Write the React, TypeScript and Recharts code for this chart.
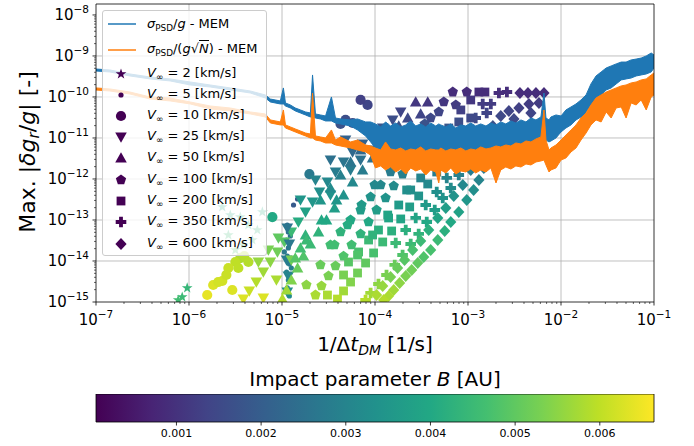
import React from 'react';
import { ComposedChart, Area, Scatter, XAxis, YAxis, ReferenceLine, ReferenceArea } from 'recharts';

// PSD curves (x = 1/dt in 1/s)
const freq = [
  1e-7, 1.41e-7, 2.32e-7, 3.82e-7, 6.27e-7, 1.03e-6, 1.69e-6, 2.78e-6, 4.56e-6, 6.62e-6,
  7.5e-6, 9.6e-6, 1.035e-5, 1.09e-5, 1.23e-5, 1.39e-5, 1.58e-5, 1.79e-5, 2.02e-5, 2.13e-5,
  2.29e-5, 2.59e-5, 2.94e-5, 3.4e-5, 3.76e-5, 4.26e-5, 5.46e-5, 6.49e-5, 7.92e-5, 8.97e-5,
  1.01e-4, 1.15e-4, 1.3e-4, 1.47e-4, 1.67e-4, 1.89e-4, 2.14e-4, 2.42e-4, 2.74e-4, 3.1e-4,
  3.51e-4, 3.97e-4, 4.5e-4, 4.85e-4, 5.09e-4, 5.77e-4, 6.53e-4, 7.39e-4, 8.37e-4, 9.47e-4,
  1.07e-3, 1.21e-3, 1.37e-3, 1.56e-3, 1.76e-3, 2.0e-3, 2.25e-3, 2.55e-3, 2.89e-3, 3.27e-3,
  3.71e-3, 4.2e-3, 4.75e-3, 5.38e-3, 6.08e-3, 6.56e-3, 6.89e-3, 7.43e-3, 7.8e-3, 8.83e-3,
  1.0e-2, 1.13e-2, 1.28e-2, 1.45e-2, 1.64e-2, 1.86e-2, 2.1e-2, 2.38e-2, 2.7e-2, 3.06e-2,
  3.46e-2, 3.92e-2, 4.44e-2, 5.01e-2, 5.68e-2, 6.43e-2, 7.28e-2, 8.25e-2, 9.33e-2, 1e-1,
];
const blueLo = [
  4.3e-10, 4.07e-10, 3.25e-10, 2.75e-10, 2.46e-10, 1.96e-10, 1.75e-10, 1.48e-10, 1.25e-10, 9.45e-11,
  7.55e-11, 6.75e-11, 6.75e-11, 6.03e-11, 5.39e-11, 4.56e-11, 4.07e-11, 3.64e-11, 3.25e-11, 3.25e-11,
  3.07e-11, 2.91e-11, 2.6e-11, 2.6e-11, 2.32e-11, 2.2e-11, 1.96e-11, 1.57e-11, 1.12e-11, 8.0e-12,
  5.7e-12, 5.1e-12, 5.39e-12, 5.1e-12, 4.82e-12, 5.1e-12, 4.56e-12, 4.82e-12, 4.56e-12, 5.1e-12,
  4.82e-12, 4.56e-12, 4.82e-12, 4.56e-12, 4.82e-12, 4.56e-12, 5.1e-12, 4.82e-12, 5.1e-12, 4.82e-12,
  5.1e-12, 4.82e-12, 5.1e-12, 5.39e-12, 5.1e-12, 5.39e-12, 5.7e-12, 6.03e-12, 6.38e-12, 6.75e-12,
  7.14e-12, 7.55e-12, 8.0e-12, 8.45e-12, 8.9e-12, 8.9e-12, 8.9e-12, 8.0e-12, 8.45e-12, 1.0e-11,
  1.4e-11, 1.75e-11, 2.08e-11, 2.75e-11, 3.25e-11, 4.31e-11, 6.38e-11, 9.45e-11, 1.12e-10, 1.48e-10,
  1.66e-10, 2.08e-10, 2.6e-10, 2.75e-10, 2.9e-10, 3.25e-10, 3.44e-10, 3.64e-10, 4.07e-10, 5.1e-10,
];
const blueHi = [
  4.8e-10, 4.56e-10, 3.64e-10, 3.07e-10, 2.75e-10, 2.32e-10, 1.96e-10, 1.66e-10, 1.4e-10, 1.12e-10,
  8.9e-11, 8.0e-11, 1.66e-10, 7.14e-11, 6.38e-11, 5.39e-11, 4.82e-11, 4.31e-11, 4.07e-11, 3.44e-10,
  3.85e-11, 3.64e-11, 3.44e-11, 1.0e-10, 3.07e-11, 2.91e-11, 2.75e-11, 2.91e-11, 2.46e-11, 2.46e-11,
  2.2e-11, 1.86e-11, 2.46e-11, 1.96e-11, 2.32e-11, 1.86e-11, 2.08e-11, 2.6e-11, 1.96e-11, 2.2e-11,
  1.86e-11, 2.32e-11, 1.96e-11, 2.2e-11, 2.08e-11, 1.86e-11, 2.2e-11, 1.75e-11, 2.08e-11, 1.96e-11,
  2.32e-11, 1.96e-11, 2.2e-11, 1.96e-11, 2.32e-11, 2.08e-11, 2.46e-11, 2.2e-11, 2.6e-11, 2.32e-11,
  2.75e-11, 2.46e-11, 3.07e-11, 2.75e-11, 3.25e-11, 1.25e-10, 3.07e-11, 2.75e-11, 3.25e-11, 3.64e-11,
  3.44e-11, 4.82e-11, 5.7e-11, 6.75e-11, 8.45e-11, 1.12e-10, 2.08e-10, 3.25e-10, 4.07e-10, 5.1e-10,
  5.7e-10, 6.4e-10, 7.1e-10, 7.1e-10, 8.0e-10, 8.4e-10, 8.9e-10, 1.0e-9, 1.18e-9, 1.06e-9,
];
const orangeLo = [
  1.48e-10, 1.4e-10, 1.18e-10, 8.9e-11, 8.0e-11, 6.75e-11, 5.1e-11, 4.56e-11, 3.85e-11, 3.25e-11,
  2.32e-11, 2.08e-11, 2.08e-11, 1.75e-11, 1.57e-11, 1.4e-11, 1.25e-11, 1.12e-11, 1.0e-11, 1.0e-11,
  8.9e-12, 8.45e-12, 7.55e-12, 7.55e-12, 6.75e-12, 6.38e-12, 5.7e-12, 5.1e-12, 4.56e-12, 3.85e-12,
  1.86e-12, 2.08e-12, 1.66e-12, 1.96e-12, 1.48e-12, 1.75e-12, 1.32e-12, 1.86e-12, 1.57e-12, 1.75e-12,
  1.25e-12, 1.66e-12, 1.48e-12, 8.0e-13, 1.66e-12, 1.4e-12, 1.86e-12, 1.32e-12, 1.57e-12, 1.48e-12,
  1.75e-12, 1.4e-12, 1.66e-12, 1.48e-12, 1.86e-12, 8.0e-13, 1.66e-12, 1.96e-12, 1.75e-12, 2.08e-12,
  1.96e-12, 2.32e-12, 2.2e-12, 2.6e-12, 2.75e-12, 2.9e-12, 2.2e-12, 1.48e-12, 1.66e-12, 1.86e-12,
  2.9e-12, 3.25e-12, 4.56e-12, 5.7e-12, 8.9e-12, 1.32e-11, 2.08e-11, 2.75e-11, 2.46e-11, 4.31e-11,
  3.07e-11, 5.39e-11, 5.7e-11, 3.07e-11, 7.14e-11, 6.38e-11, 8.45e-11, 4.82e-11, 1.0e-10, 1.12e-10,
];
const orangeHi = [
  1.66e-10, 1.57e-10, 1.32e-10, 1.0e-10, 9.45e-11, 7.55e-11, 6.03e-11, 5.39e-11, 4.31e-11, 3.85e-11,
  2.75e-11, 2.46e-11, 4.82e-11, 2.08e-11, 1.86e-11, 1.66e-11, 1.48e-11, 1.32e-11, 1.25e-11, 1.25e-10,
  1.12e-11, 1.06e-11, 1.0e-11, 1.57e-11, 8.9e-12, 1.06e-11, 8.0e-12, 8.9e-12, 6.75e-12, 6.38e-12,
  5.7e-12, 5.1e-12, 8.0e-12, 5.39e-12, 5.1e-12, 5.7e-12, 4.82e-12, 5.39e-12, 5.1e-12, 6.03e-12,
  4.82e-12, 5.39e-12, 5.1e-12, 5.1e-12, 5.7e-12, 4.82e-12, 5.39e-12, 5.1e-12, 5.7e-12, 4.82e-12,
  5.39e-12, 5.1e-12, 6.03e-12, 5.39e-12, 5.7e-12, 6.38e-12, 6.03e-12, 6.75e-12, 6.38e-12, 7.55e-12,
  7.14e-12, 8.45e-12, 8.0e-12, 9.45e-12, 1.06e-11, 4.82e-11, 8.9e-12, 5.1e-12, 5.7e-12, 6.75e-12,
  8.9e-12, 1.18e-11, 1.57e-11, 2.08e-11, 3.07e-11, 4.07e-11, 6.38e-11, 9.45e-11, 1.12e-10, 1.32e-10,
  1.48e-10, 1.66e-10, 1.86e-10, 1.96e-10, 2.2e-10, 2.32e-10, 2.6e-10, 2.75e-10, 3.44e-10, 3.85e-10,
];

// scatter points per V_inf: [1/dt, max |dg/g|, impact parameter B in AU]
const v2 = [
  [8.45e-7, 1.32e-15, 0.0045], [9.56e-7, 2.2e-15, 0.0044], [7.65e-7, 1.12e-15, 0.0046],
  [2.28e-6, 2.08e-13, 0.004], [2.78e-6, 1.32e-13, 0.0041], [3.56e-6, 1.18e-13, 0.0042],
  [4.35e-6, 7.55e-14, 0.0043], [5.43e-6, 5.7e-14, 0.0044], [4.8e-6, 3.25e-14, 0.0045],
  [3.84e-6, 2.46e-14, 0.0046], [3.15e-6, 1.86e-14, 0.0047], [6.15e-6, 1.57e-13, 0.0041],
  [2.65e-6, 4.31e-14, 0.0045],
];
const v5 = [
  [1.47e-5, 3.25e-13, 0.0018], [1.33e-5, 2.32e-13, 0.0019],
  [1.14e-5, 7.55e-14, 0.0024], [1.17e-5, 5.1e-14, 0.0025], [1.12e-5, 3.25e-14, 0.0025],
  [1.17e-5, 2.08e-14, 0.0026], [1.14e-5, 1.32e-14, 0.0027], [1.2e-5, 8.45e-15, 0.0028],
  [1.12e-5, 5.39e-15, 0.0029], [1.17e-5, 3.44e-15, 0.003], [1.14e-5, 2.2e-15, 0.0031],
  [1.2e-5, 1.4e-15, 0.0032], [1.23e-5, 4.07e-14, 0.0025], [1.06e-5, 1.66e-14, 0.0027],
  [1.26e-5, 6.75e-15, 0.0029],
];
const v10 = [
  [8.32e-5, 6.38e-11, 0.0014], [7.0e-5, 8.45e-11, 0.0013], [5.74e-5, 2.32e-11, 0.0016],
  [4.82e-5, 2.75e-11, 0.0016], [4.26e-5, 2.2e-11, 0.0017], [1.97e-5, 1.32e-12, 0.0027],
  [7.88e-6, 1.18e-13, 0.004], [3.56e-6, 1.18e-14, 0.0058], [3.15e-6, 9.45e-15, 0.006],
  [2.65e-6, 6.75e-15, 0.0061], [2.28e-6, 3.25e-15, 0.0062], [1.82e-6, 2.6e-15, 0.0063],
  [1.57e-6, 1.48e-15, 0.0064], [2.92e-6, 1.96e-15, 0.0063], [2.06e-6, 3.07e-15, 0.0062],
  [2.52e-6, 4.56e-15, 0.0061], [3.39e-6, 6.75e-15, 0.006], [3.93e-6, 1.32e-14, 0.0059],
  [4.35e-6, 9.45e-15, 0.0059],
];
const v25 = [
  [1.89e-4, 4.31e-11, 0.0014], [1.55e-4, 2.75e-11, 0.0016], [1.21e-4, 1.75e-11, 0.0018],
  [9.42e-5, 1.12e-11, 0.002], [7.35e-5, 7.14e-12, 0.0021], [5.74e-5, 4.56e-12, 0.0023],
  [4.59e-5, 2.6e-12, 0.0026], [3.76e-5, 1.48e-12, 0.0028], [3.08e-5, 8.45e-13, 0.0031],
  [2.53e-5, 4.82e-13, 0.0033], [2.13e-5, 2.75e-13, 0.0035], [1.79e-5, 1.57e-13, 0.0038],
  [1.5e-5, 8.94e-14, 0.0041], [1.26e-5, 5.1e-14, 0.0045], [1.06e-5, 2.91e-14, 0.0049],
  [8.93e-6, 1.66e-14, 0.0052], [7.5e-6, 9.45e-15, 0.0055], [6.3e-6, 5.39e-15, 0.0057],
  [5.3e-6, 3.07e-15, 0.0059], [4.45e-6, 1.86e-15, 0.0061], [3.84e-6, 1.18e-15, 0.0063],
  [4.82e-5, 8.9e-12, 0.0021], [3.32e-5, 2.9e-12, 0.0025], [2.29e-5, 9.5e-13, 0.003],
  [1.58e-5, 3.07e-13, 0.0035], [9.15e-6, 3.64e-14, 0.005], [7.14e-6, 1.86e-14, 0.0053],
  [5.57e-6, 9.45e-15, 0.0056],
  [1.14e-5, 6.38e-14, 0.0026], [1.2e-5, 2.6e-14, 0.0027], [1.12e-5, 1.06e-14, 0.0028],
  [1.17e-5, 4.31e-15, 0.003], [1.14e-5, 1.75e-15, 0.0032],
  [1.26e-5, 1.06e-14, 0.0053], [8.71e-6, 3.44e-15, 0.0058], [6.3e-6, 1.25e-15, 0.0063],
  [5.46e-5, 1.66e-12, 0.0028], [3.32e-5, 4.07e-13, 0.0034], [7.0e-5, 2.9e-12, 0.0025],
  [8.97e-5, 5.1e-12, 0.0023],
];
const v50 = [
  [2.74e-4, 7.55e-11, 0.0011], [3.69e-4, 7.55e-11, 0.0011], [2.25e-4, 3.07e-11, 0.0015],
  [3.1e-4, 3.85e-11, 0.0014], [1.8e-4, 1.96e-11, 0.0017],
  [1.21e-4, 6.75e-12, 0.0022], [9.42e-5, 3.25e-12, 0.0025], [7.35e-5, 1.66e-12, 0.0028],
  [5.74e-5, 8.45e-13, 0.0031], [4.59e-5, 4.07e-13, 0.0034], [3.67e-5, 1.96e-13, 0.0037],
  [3.01e-5, 1.0e-13, 0.004], [2.47e-5, 5.1e-14, 0.0043], [2.02e-5, 2.6e-14, 0.0045],
  [1.7e-5, 1.32e-14, 0.0048], [1.47e-5, 6.75e-15, 0.0051], [1.26e-5, 3.44e-15, 0.0054],
  [1.12e-5, 1.96e-15, 0.0057], [1.01e-5, 1.18e-15, 0.0059],
  [7.0e-5, 5.1e-12, 0.0023], [5.46e-5, 2.6e-12, 0.0026], [4.26e-5, 1.25e-12, 0.0029],
  [3.32e-5, 6.03e-13, 0.0032], [2.59e-5, 3.07e-13, 0.0035], [1.79e-5, 4.31e-14, 0.0043],
  [1.58e-5, 2.08e-14, 0.0046], [1.39e-5, 1.18e-14, 0.0049],
  [3.86e-5, 3.07e-13, 0.0035], [2.66e-5, 1.0e-13, 0.004], [1.83e-5, 3.25e-14, 0.0045],
];
const v100 = [
  [6.86e-4, 1.32e-10, 0.0009], [9.7e-4, 1.32e-10, 0.0009], [5.49e-4, 7.55e-11, 0.0011],
  [7.39e-4, 6.38e-11, 0.0012], [4.85e-4, 4.31e-11, 0.0014], [3.97e-4, 3.07e-11, 0.0015],
  [3.42e-4, 2.2e-11, 0.0017],
  [2.95e-4, 5.1e-12, 0.0023], [2.42e-4, 2.6e-12, 0.0026], [1.98e-4, 1.32e-12, 0.0029],
  [1.59e-4, 6.75e-13, 0.0032], [1.3e-4, 3.44e-13, 0.0034], [1.04e-4, 1.75e-13, 0.0037],
  [8.53e-5, 8.94e-14, 0.004], [7.0e-5, 4.56e-14, 0.0043], [5.6e-5, 2.46e-14, 0.0046],
  [4.59e-5, 1.32e-14, 0.0048], [3.76e-5, 7.55e-15, 0.0051], [3.16e-5, 4.31e-15, 0.0053],
  [2.66e-5, 2.46e-15, 0.0056], [2.29e-5, 1.48e-15, 0.0058],
  [1.89e-4, 2.9e-12, 0.0025], [1.47e-4, 1.48e-12, 0.0028], [1.15e-4, 7.14e-13, 0.0031],
  [8.97e-5, 3.64e-13, 0.0034], [7.0e-5, 1.75e-13, 0.0037], [5.46e-5, 1.0e-13, 0.004],
  [4.26e-5, 5.1e-14, 0.0043], [3.32e-5, 2.46e-14, 0.0046],
  [9.9e-5, 7.14e-13, 0.0031], [7.17e-5, 2.32e-13, 0.0036], [5.07e-5, 7.55e-14, 0.0041],
  [3.67e-5, 2.46e-14, 0.0046], [2.59e-5, 8.0e-15, 0.0051], [1.83e-5, 2.6e-15, 0.0055],
];
const v200 = [
  [1.31e-3, 1.32e-10, 0.0009], [1.52e-3, 1.32e-10, 0.0009], [1.07e-3, 8.45e-11, 0.0011],
  [8.37e-4, 4.82e-11, 0.0013], [1.07e-3, 3.07e-11, 0.0015], [7.96e-4, 2.46e-11, 0.0016],
  [6.21e-4, 1.75e-11, 0.0018],
  [5.77e-4, 2.9e-12, 0.0025], [4.61e-4, 1.48e-12, 0.0028], [3.69e-4, 7.55e-13, 0.0031],
  [2.95e-4, 3.85e-13, 0.0034], [2.36e-4, 2.08e-13, 0.0037], [1.89e-4, 1.06e-13, 0.0039],
  [1.51e-4, 5.39e-14, 0.0042], [1.21e-4, 2.91e-14, 0.0045], [9.66e-5, 1.57e-14, 0.0047],
  [7.92e-5, 8.94e-15, 0.005], [6.49e-5, 5.1e-15, 0.0052], [5.46e-5, 3.07e-15, 0.0054],
  [4.59e-5, 1.86e-15, 0.0057], [3.95e-5, 1.18e-15, 0.0059],
  [3.97e-4, 2.2e-12, 0.0027], [3.1e-4, 1.06e-12, 0.003], [2.42e-4, 5.39e-13, 0.0033],
  [1.8e-4, 2.32e-13, 0.0036], [1.4e-4, 1.12e-13, 0.0039], [1.09e-4, 5.7e-14, 0.0042],
  [8.53e-5, 3.25e-14, 0.0045], [6.66e-5, 1.66e-14, 0.0047], [5.19e-5, 9.45e-15, 0.0049],
  [2.19e-4, 5.39e-13, 0.0033], [1.37e-4, 1.32e-13, 0.0039], [9.42e-5, 4.31e-14, 0.0043],
  [6.49e-5, 1.4e-14, 0.0048], [4.59e-5, 4.56e-15, 0.0053], [3.08e-5, 1.48e-15, 0.0058],
];
const v350 = [
  [2.62e-3, 1.32e-10, 0.0009], [2.15e-3, 1.25e-10, 0.0009], [1.76e-3, 6.75e-11, 0.0012],
  [1.44e-3, 6.75e-11, 0.0012], [1.59e-3, 4.07e-11, 0.0014], [1.21e-3, 3.07e-11, 0.0015],
  [9.7e-4, 2.9e-12, 0.0025], [7.96e-4, 1.25e-12, 0.0029], [6.53e-4, 6.03e-13, 0.0032],
  [5.35e-4, 3.44e-13, 0.0034], [4.39e-4, 1.75e-13, 0.0037], [3.6e-4, 8.94e-14, 0.004],
  [2.95e-4, 4.56e-14, 0.0043], [2.42e-4, 2.6e-14, 0.0045], [1.98e-4, 1.4e-14, 0.0048],
  [1.63e-4, 8.0e-15, 0.0051], [1.33e-4, 4.56e-15, 0.0053], [1.09e-4, 2.75e-15, 0.0055],
  [8.97e-5, 1.66e-15, 0.0057], [7.92e-5, 1.12e-15, 0.0059],
  [7.39e-4, 2.2e-12, 0.0027], [5.91e-4, 1.06e-12, 0.003], [4.61e-4, 4.82e-13, 0.0033],
  [3.51e-4, 2.32e-13, 0.0036], [2.74e-4, 1.12e-13, 0.0039], [2.14e-4, 5.7e-14, 0.0042],
  [1.67e-4, 2.75e-14, 0.0045],
];
const v600 = [
  [6.56e-3, 1.25e-10, 0.0009], [5.38e-3, 1.25e-10, 0.0009], [4.41e-3, 1.25e-10, 0.0009],
  [3.62e-3, 1.25e-10, 0.0009], [5.79e-3, 7.14e-11, 0.0012], [4.52e-3, 6.75e-11, 0.0012],
  [3.53e-3, 5.39e-11, 0.0013], [2.75e-3, 4.56e-11, 0.0014], [4.75e-3, 4.07e-11, 0.0014],
  [3.12e-3, 2.91e-11, 0.0015], [2.25e-3, 3.44e-11, 0.0015], [1.85e-3, 1.96e-11, 0.0017],
  [2.1e-3, 8.9e-12, 0.0021], [1.68e-3, 3.85e-12, 0.0024], [1.48e-3, 1.86e-12, 0.0027],
  [1.31e-3, 9.5e-13, 0.003], [1.15e-3, 5.39e-13, 0.0033], [9.7e-4, 3.07e-13, 0.0035],
  [7.96e-4, 1.57e-13, 0.0038], [6.53e-4, 8.94e-14, 0.004], [5.62e-4, 5.39e-14, 0.0042],
  [4.73e-4, 3.25e-14, 0.0045], [3.97e-4, 1.86e-14, 0.0047], [3.34e-4, 1.25e-14, 0.0048],
  [2.88e-4, 8.94e-15, 0.005], [2.48e-4, 6.03e-15, 0.0052], [2.14e-4, 4.31e-15, 0.0053],
  [1.84e-4, 2.91e-15, 0.0055], [1.59e-4, 1.96e-15, 0.0057], [1.4e-4, 1.4e-15, 0.0058],
  [1.24e-4, 1.12e-15, 0.0059],
  [1.07e-3, 1.66e-12, 0.0028], [8.79e-4, 7.14e-13, 0.0031], [7.03e-4, 3.85e-13, 0.0034],
  [5.77e-4, 1.96e-13, 0.0037], [4.73e-4, 1.12e-13, 0.0039], [3.78e-4, 5.7e-14, 0.0042],
  [3.1e-4, 3.07e-14, 0.0045], [2.54e-4, 1.86e-14, 0.0047], [2.08e-4, 1.06e-14, 0.0049],
  [1.75e-4, 6.75e-15, 0.0051], [1.47e-4, 4.07e-15, 0.0053], [1.21e-4, 2.46e-15, 0.0056],
  [1.04e-4, 1.48e-15, 0.0058],
];

const xMajor = [1e-7, 1e-6, 1e-5, 1e-4, 1e-3, 1e-2, 1e-1];
const yMajor = [1e-15, 1e-14, 1e-13, 1e-12, 1e-11, 1e-10, 1e-9, 1e-8];
const cbTicks = [0.001, 0.002, 0.003, 0.004, 0.005, 0.006];
const cbMin = 0.00005;
const cbMax = 0.00664;
const yTop = 1.85e-8;

const vSeries = [
  { v: 2, kind: 'star', pts: v2 },
  { v: 5, kind: 'dot', pts: v5 },
  { v: 10, kind: 'circle', pts: v10 },
  { v: 25, kind: 'tridown', pts: v25 },
  { v: 50, kind: 'triup', pts: v50 },
  { v: 100, kind: 'pentagon', pts: v100 },
  { v: 200, kind: 'square', pts: v200 },
  { v: 350, kind: 'plus', pts: v350 },
  { v: 600, kind: 'diamond', pts: v600 },
];

const VIRIDIS = ['#440154', '#482475', '#414487', '#355f8d', '#2a788e', '#21918c', '#22a884', '#44bf70', '#7ad151', '#bddf26', '#fde725'];

function cmap(b: number) {
  const t = Math.min(1, Math.max(0, (b - cbMin) / (cbMax - cbMin))) * 10;
  const i = Math.min(9, Math.floor(t));
  const f = t - i;
  const a = VIRIDIS[i], c = VIRIDIS[i + 1];
  const ch = (s: string, k: number) => parseInt(s.slice(1 + 2 * k, 3 + 2 * k), 16);
  const mix = [0, 1, 2].map((k) => Math.round(ch(a, k) + (ch(c, k) - ch(a, k)) * f));
  return `rgb(${mix.join(',')})`;
}

const xMinor = xMajor.slice(0, -1).flatMap((d) => [2, 3, 4, 5, 6, 7, 8, 9].map((m) => m * d));
const yMinor = yMajor.slice(0, -1).flatMap((d) => [2, 3, 4, 5, 6, 7, 8, 9].map((m) => m * d));
const xTicks = [...xMajor, ...xMinor].sort((a, b) => a - b);
const yTicks = [...yMajor, ...yMinor].sort((a, b) => a - b);

const psd = freq.map((f, i) => ({ f, blue: [blueLo[i], blueHi[i]], orange: [orangeLo[i], orangeHi[i]] }));
const cbRows = [
  { b: cbMin, fillTo: 1 },
  { b: cbMax, fillTo: 1 },
];

const isMajor = (v: number) => Math.abs(Math.log10(v) - Math.round(Math.log10(v))) < 1e-6;
const expo = (v: number) => String(Math.round(Math.log10(v))).replace('-', '\u2212');

function polygon(cx: number, cy: number, n: number, r: number, inner?: number) {
  const pts: string[] = [];
  const steps = inner ? n * 2 : n;
  for (let k = 0; k < steps; k++) {
    const ang = -Math.PI / 2 + (k * 2 * Math.PI) / steps;
    const rr = inner && k % 2 === 1 ? inner : r;
    pts.push(`${cx + rr * Math.cos(ang)},${cy + rr * Math.sin(ang)}`);
  }
  return pts.join(' ');
}

function Marker({ kind, cx, cy, fill }: { kind: string; cx: number; cy: number; fill: string }) {
  switch (kind) {
    case 'star':
      return <polygon points={polygon(cx, cy, 5, 5.6, 2.2)} fill={fill} />;
    case 'dot':
      return <circle cx={cx} cy={cy} r={2.6} fill={fill} />;
    case 'circle':
      return <circle cx={cx} cy={cy} r={5.1} fill={fill} />;
    case 'tridown':
      return <polygon points={`${cx - 5.8},${cy - 4.5} ${cx + 5.8},${cy - 4.5} ${cx},${cy + 5.8}`} fill={fill} />;
    case 'triup':
      return <polygon points={`${cx - 5.8},${cy + 4.5} ${cx + 5.8},${cy + 4.5} ${cx},${cy - 5.8}`} fill={fill} />;
    case 'pentagon':
      return <polygon points={polygon(cx, cy, 5, 5.4)} fill={fill} />;
    case 'square':
      return <rect x={cx - 4.4} y={cy - 4.4} width={8.8} height={8.8} fill={fill} />;
    case 'plus': {
      const w = 1.9, l = 5.3;
      return (
        <path
          d={`M${cx - w},${cy - l}H${cx + w}V${cy - w}H${cx + l}V${cy + w}H${cx + w}V${cy + l}H${cx - w}V${cy + w}H${cx - l}V${cy - w}H${cx - w}Z`}
          fill={fill}
        />
      );
    }
    default:
      return <polygon points={`${cx},${cy - 6} ${cx + 5.6},${cy} ${cx},${cy + 6} ${cx - 5.6},${cy}`} fill={fill} />;
  }
}

function XTick(props: any) {
  const { x, y, payload } = props;
  const v = payload.value;
  const major = isMajor(v);
  return (
    <g>
      <line x1={x} x2={x} y1={y} y2={y + (major ? 3.5 : 2)} stroke="#000" strokeWidth={major ? 0.8 : 0.6} />
      {major && (
        <text x={x} y={y + 23} textAnchor="middle" fontSize={15} fill="#000">
          10<tspan dy={-7} fontSize={10.5}>{expo(v)}</tspan>
        </text>
      )}
    </g>
  );
}

function YTick(props: any) {
  const { x, y, payload } = props;
  const v = payload.value;
  const major = isMajor(v);
  return (
    <g>
      <line x1={x} x2={x - (major ? 3.5 : 2)} y1={y} y2={y} stroke="#000" strokeWidth={major ? 0.8 : 0.6} />
      {major && (
        <text x={x - 7} y={y + 5} textAnchor="end" fontSize={15} fill="#000">
          10<tspan dy={-7} fontSize={10.5}>{expo(v)}</tspan>
        </text>
      )}
    </g>
  );
}

const legendText: React.CSSProperties = { position: 'absolute', left: 44, fontSize: 13, whiteSpace: 'nowrap', lineHeight: '18px' };
const sub: React.CSSProperties = { fontSize: '0.68em', verticalAlign: '-0.3em' };

function LegendBox() {
  const rowsTop = [63, 84, 105, 126, 147, 169, 190, 211, 233];
  return (
    <div
      style={{
        position: 'absolute', left: 102, top: 10, width: 165, height: 246, zIndex: 2,
        background: 'rgba(255,255,255,0.8)', border: '1px solid #cccccc', borderRadius: 3, boxSizing: 'border-box',
      }}
    >
      <svg style={{ position: 'absolute', left: 0, top: 0 }} width={165} height={246}>
        <line x1={5} x2={33} y1={13} y2={13} stroke="#1f77b4" strokeWidth={1.5} />
        <line x1={5} x2={33} y1={39} y2={39} stroke="#ff7f0e" strokeWidth={1.5} />
        {vSeries.map((s, i) => (
          <Marker key={s.v} kind={s.kind} cx={18} cy={rowsTop[i]} fill="#440154" />
        ))}
      </svg>
      <div style={{ ...legendText, top: 4 }}>
        <i>σ</i><span style={sub}>PSD</span>/<i>g</i> - MEM
      </div>
      <div style={{ ...legendText, top: 29 }}>
        <i>σ</i><span style={sub}>PSD</span>/(<i>g</i>√<span style={{ borderTop: '1px solid #000' }}><i>N</i></span>) - MEM
      </div>
      {vSeries.map((s, i) => (
        <div key={s.v} style={{ ...legendText, top: rowsTop[i] - 10 }}>
          <i>V</i><span style={sub}>∞</span> = {s.v} [km/s]
        </div>
      ))}
    </div>
  );
}

export default function App() {
  return (
    <div style={{ position: 'absolute', left: 0, top: 0, width: 694, height: 446, fontFamily: 'DejaVu Sans', background: '#fff', color: '#000' }}>
      <svg width={0} height={0} style={{ position: 'absolute' }}>
        <defs>
          <linearGradient id="viridisGrad" x1="0" x2="1" y1="0" y2="0">
            {VIRIDIS.map((c, i) => (
              <stop key={c} offset={`${i * 10}%`} stopColor={c} />
            ))}
          </linearGradient>
        </defs>
      </svg>

      <div style={{ position: 'absolute', left: 0, top: 0 }}>
        <ComposedChart width={694} height={332} data={psd} margin={{ top: 4, right: 40, left: 0, bottom: 0 }}>
          <XAxis
            dataKey="f" type="number" scale="log" domain={[1e-7, 1e-1]} allowDataOverflow
            ticks={xTicks} interval={0} tick={<XTick />} tickLine={false} tickSize={0} tickMargin={0}
            axisLine={false} height={30}
          />
          <YAxis
            dataKey="y" type="number" scale="log" domain={[1e-15, yTop]} allowDataOverflow
            ticks={yTicks} interval={0} tick={<YTick />} tickLine={false} tickSize={0} tickMargin={0}
            axisLine={false} width={96}
          />
          {vSeries.map((s) => (
            <Scatter
              key={s.v}
              name={`V = ${s.v}`}
              data={s.pts.map(([f, y, b]) => ({ f, y, b }))}
              isAnimationActive={false}
              shape={(p: any) => <Marker kind={s.kind} cx={p.cx} cy={p.cy} fill={cmap(p.payload.b)} />}
            />
          ))}
          {xMajor.slice(1, -1).map((v) => (
            <ReferenceLine key={`gx${v}`} x={v} stroke="#b0b0b0" strokeWidth={0.8} />
          ))}
          {yMajor.slice(1, -1).map((v) => (
            <ReferenceLine key={`gy${v}`} y={v} stroke="#b0b0b0" strokeWidth={0.8} />
          ))}
          <Area
            type="linear" dataKey={(d: any) => d.blue} stroke="#1f77b4" strokeWidth={1} fill="#1f77b4"
            fillOpacity={1} dot={false} activeDot={false} isAnimationActive={false} zIndex={700}
          />
          <Area
            type="linear" dataKey={(d: any) => d.orange} stroke="#ff7f0e" strokeWidth={1} fill="#ff7f0e"
            fillOpacity={1} dot={false} activeDot={false} isAnimationActive={false} zIndex={710}
          />
          <ReferenceArea x1={1e-7} x2={1e-1} y1={1e-15} y2={yTop} fill="none" stroke="#000" strokeWidth={0.8} zIndex={800} />
        </ComposedChart>
      </div>

      <LegendBox />

      <div
        style={{
          position: 'absolute', left: 31, top: 152, transform: 'translate(-50%, -50%) rotate(-90deg)',
          fontSize: 22, whiteSpace: 'nowrap', lineHeight: '26px',
        }}
      >
        Max. |<i>δg</i><span style={{ fontSize: '0.7em', verticalAlign: '-0.25em' }}><i>r</i></span>/<i>g</i>| [-]
      </div>

      <div style={{ position: 'absolute', left: 96, width: 558, top: 332, textAlign: 'center', fontSize: 20, lineHeight: '24px', whiteSpace: 'nowrap' }}>
        1/Δ<i>t</i><span style={{ fontSize: '0.7em', verticalAlign: '-0.3em' }}><i>DM</i></span> [1/s]
      </div>

      <div style={{ position: 'absolute', left: 96, width: 558, top: 367, textAlign: 'center', fontSize: 20, lineHeight: '24px', whiteSpace: 'nowrap' }}>
        Impact parameter <i>B</i> [AU]
      </div>

      <div style={{ position: 'absolute', left: 0, top: 394 }}>
        <ComposedChart width={694} height={52} data={cbRows} margin={{ top: 0, right: 40, left: 96, bottom: 0 }}>
          <XAxis
            dataKey="b" type="number" domain={[cbMin, cbMax]} ticks={cbTicks} interval={0} allowDataOverflow
            tickFormatter={(v: number) => v.toFixed(3)} tick={{ fontSize: 11, fill: '#000' }}
            tickLine={{ stroke: '#000', strokeWidth: 0.8 }} tickSize={3.5} tickMargin={4} axisLine={false} height={24}
          />
          <YAxis type="number" domain={[0, 1]} allowDataOverflow hide />
          <Area
            type="linear" dataKey="fillTo" baseValue={0} stroke="none" fill="url(#viridisGrad)" fillOpacity={1}
            dot={false} activeDot={false} isAnimationActive={false}
          />
          <ReferenceArea x1={cbMin} x2={cbMax} y1={0} y2={1} fill="none" stroke="#000" strokeWidth={0.8} />
        </ComposedChart>
      </div>
    </div>
  );
}
